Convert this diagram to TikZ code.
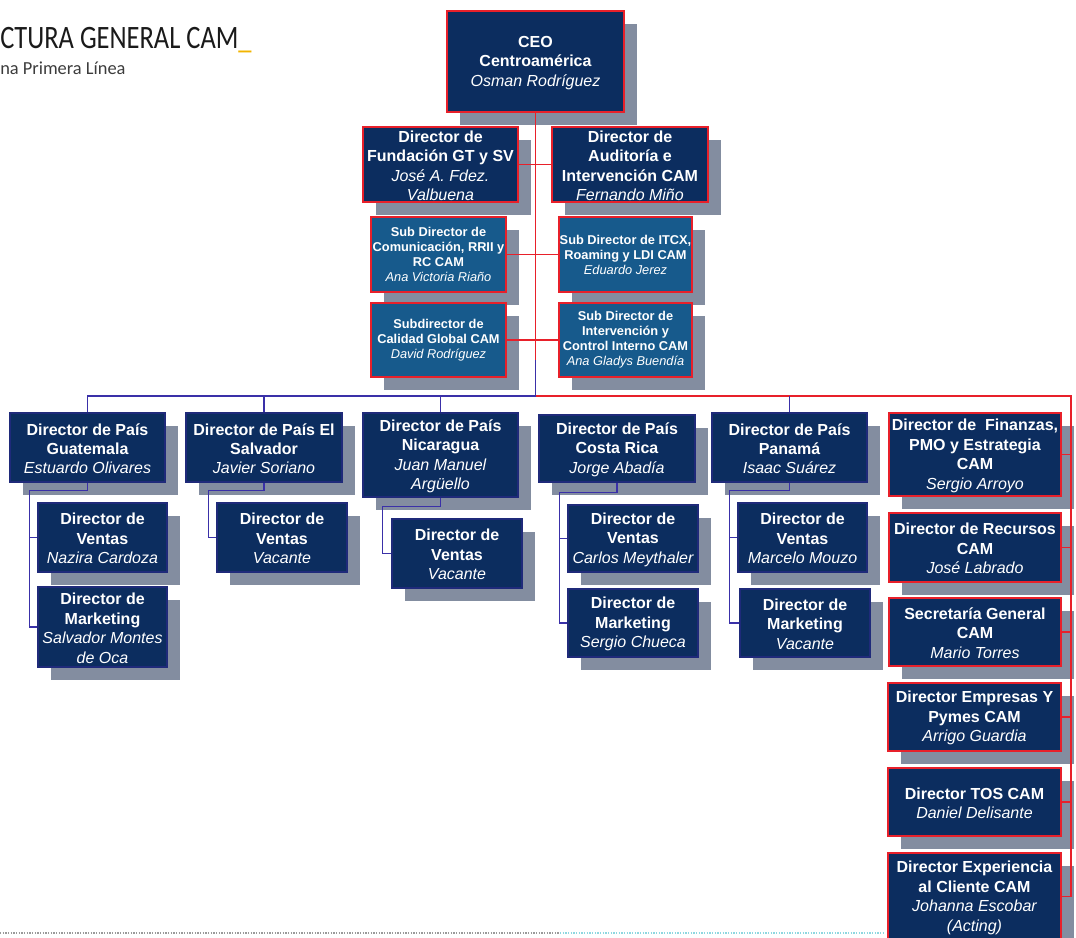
\documentclass[tikz,border=0pt]{standalone}
\usepackage{fontspec}
\setmainfont{Liberation Sans}
\newfontfamily\titlefont{Carlito}
\usetikzlibrary{fit}
\pgfdeclarelayer{shadowlayer}
\pgfdeclarelayer{linelayer}
\pgfsetlayers{shadowlayer,linelayer,main}
\definecolor{navy}{HTML}{0C2D5F}
\definecolor{subblue}{HTML}{175A8C}
\definecolor{redc}{HTML}{E8202A}
\definecolor{bluec}{HTML}{3A30A8}
\definecolor{navyborder}{HTML}{1F2A7A}
\definecolor{shadowc}{HTML}{838DA0}
\definecolor{titlec}{HTML}{1A1A1A}
\definecolor{accent}{HTML}{F2B400}
\definecolor{dotgray}{HTML}{9A9A9A}
\definecolor{dotcyan}{HTML}{8FD8E0}
\tikzset{
  boxbase/.style={fill=navy, inner sep=0pt, line width=1.1pt},
  cbox/.style={boxbase, draw=navyborder},
  rbox/.style={boxbase, draw=redc},
  sbox/.style={boxbase, fill=subblue, draw=redc},
  mtext/.style={text=white, inner sep=0pt, align=center, yshift=-0.9pt,
    font=\fontsize{12}{14.6}\selectfont\bfseries},
  stext/.style={text=white, inner sep=0pt, align=center, yshift=0pt,
    font=\fontsize{9.6}{11.25}\selectfont\bfseries},
  bl/.style={draw=bluec, line width=0.9pt},
  rl/.style={draw=redc, line width=0.9pt},
}
\newcommand\nm[1]{{\mdseries\itshape #1}}
% #1 name, #2 box style, #3 text style, #4-#7 corners, #8 text
\newcommand\orgbox[8]{%
  \begin{pgfonlayer}{shadowlayer}
    \fill[shadowc] (#4+13,#5+13) rectangle (#6+13,#7+13);
  \end{pgfonlayer}
  \node[#2, fit={(#4,#5) (#6,#7)}] (#1) {};
  \node[#3] (#1-t) at (#1.center) {#8};
}
\begin{document}
\begin{tikzpicture}[x=0.75pt, y=-0.75pt]
\useasboundingbox (0,0) rectangle (1076,938);
\clip (0,0) rectangle (1076,938);

% title
\node[anchor=base west, inner sep=0pt, text=titlec, font=\titlefont\fontsize{24.5}{28}\selectfont] (t1) at (0,49)
  {\scalebox{0.81}[1]{CTURA GENERAL CAM\textcolor{accent}{\_}}};
\node[anchor=base west, inner sep=0pt, text=titlec!85, font=\titlefont\fontsize{13.8}{16}\selectfont] (t2) at (0,75)
  {na Primera Línea};

% bottom dotted rule
\begin{pgfonlayer}{shadowlayer}
  \draw[dotgray, line width=1.5pt, dash pattern=on 1pt off 1pt] (0,933) -- (560,933);
  \draw[dotcyan, line width=1.5pt, dash pattern=on 1pt off 1pt] (560,933) -- (885,933);
\end{pgfonlayer}

% top management
\orgbox{ceo}{rbox}{mtext}{447}{11}{624}{112}{CEO\\Centroamérica\\\nm{Osman Rodríguez}}
\orgbox{fund}{rbox}{mtext}{363}{127}{518}{202}{Director de\\Fundación GT y SV\\\nm{José A. Fdez.}\\\nm{Valbuena}}
\orgbox{aud}{rbox}{mtext}{552}{127}{708}{202}{Director de\\Auditoría e\\Intervención CAM\\\nm{Fernando Miño}}
\orgbox{com}{sbox}{stext}{371}{217}{506}{292}{Sub Director de\\Comunicación, RRII y\\RC CAM\\\nm{Ana Victoria Riaño}}
\orgbox{itcx}{sbox}{stext}{559}{217}{692}{292}{Sub Director de ITCX,\\Roaming y LDI CAM\\\nm{Eduardo Jerez}}
\orgbox{cal}{sbox}{stext}{371}{303}{506}{377}{Subdirector de\\Calidad Global CAM\\\nm{David Rodríguez}}
\orgbox{intv}{sbox}{stext}{559}{303}{692}{377}{Sub Director de\\Intervención y\\Control Interno CAM\\\nm{Ana Gladys Buendía}}

% countries
\orgbox{gt}{cbox}{mtext}{10}{413}{165}{482}{Director de País\\Guatemala\\\nm{Estuardo Olivares}}
\orgbox{sv}{cbox}{mtext}{186}{413}{342}{482}{Director de País El\\Salvador\\\nm{Javier Soriano}}
\orgbox{ni}{cbox}{mtext}{363}{413}{518}{497}{Director de País\\Nicaragua\\\nm{Juan Manuel}\\\nm{Argüello}}
\orgbox{cr}{cbox}{mtext}{539}{415}{695}{482}{Director de País\\Costa Rica\\\nm{Jorge Abadía}}
\orgbox{pa}{cbox}{mtext}{712}{413}{867}{482}{Director de País\\Panamá\\\nm{Isaac Suárez}}

\orgbox{gtv}{cbox}{mtext}{38}{503}{167}{572}{Director de\\Ventas\\\nm{Nazira Cardoza}}
\orgbox{gtm}{cbox}{mtext}{38}{587}{167}{667}{Director de\\Marketing\\\nm{Salvador Montes}\\\nm{de Oca}}
\orgbox{svv}{cbox}{mtext}{217}{503}{347}{572}{Director de\\Ventas\\\nm{Vacante}}
\orgbox{niv}{cbox}{mtext}{392}{519}{522}{588}{Director de\\Ventas\\\nm{Vacante}}
\orgbox{crv}{cbox}{mtext}{568}{505}{698}{572}{Director de\\Ventas\\\nm{Carlos Meythaler}}
\orgbox{crm}{cbox}{mtext}{568}{589}{698}{657}{Director de\\Marketing\\\nm{Sergio Chueca}}
\orgbox{pav}{cbox}{mtext}{738}{503}{867}{572}{Director de\\Ventas\\\nm{Marcelo Mouzo}}
\orgbox{pam}{cbox}{mtext}{740}{589}{870}{657}{Director de\\Marketing\\\nm{Vacante}}

% staff column
\orgbox{fin}{rbox}{mtext}{889}{413}{1061}{496}{Director de \ Finanzas,\\PMO y Estrategia\\CAM\\\nm{Sergio Arroyo}}
\orgbox{rec}{rbox}{mtext}{889}{513}{1061}{582}{Director de Recursos\\CAM\\\nm{José Labrado}}
\orgbox{sec}{rbox}{mtext}{889}{598}{1061}{666}{Secretaría General\\CAM\\\nm{Mario Torres}}
\orgbox{emp}{rbox}{mtext}{888}{683}{1061}{751}{Director Empresas Y\\Pymes CAM\\\nm{Arrigo Guardia}}
\orgbox{tos}{rbox}{mtext}{888}{768}{1061}{836}{Director TOS CAM\\\nm{Daniel Delisante}}
\orgbox{exp}{rbox}{mtext}{888}{853}{1061}{940}{Director Experiencia\\al Cliente CAM\\\nm{Johanna Escobar}\\\nm{(Acting)}}

% connectors
\begin{pgfonlayer}{linelayer}
  \coordinate (jn) at (535.5,396);
  \coordinate (rj) at (535.5,360);
  \coordinate (rc) at (1071,396);
  \draw[bl] (ceo.south) -- (jn);
  \draw[rl] (ceo.south) -- (rj);
  \draw[bl] (jn) -| (gt.north);
  \draw[bl] (sv.north) -- (sv.north |- jn);
  \draw[bl] (ni.north) -- (ni.north |- jn);
  \draw[rl] ([xshift=0.6pt]jn) -- (rc) -- (rc |- exp.east);
  \draw[bl] (pa.north) -- (pa.north |- jn);
  \draw[rl] (fund.east) -- (aud.west);
  \draw[rl] (com.east) -- (itcx.west);
  \draw[rl] (cal.east) -- (intv.west);
  \foreach \n in {fin,rec,sec,emp,tos,exp} \draw[rl] (\n.east) -- (\n.east -| rc);
  % country sub-structures
  \draw[bl] (gt.south) -- ++(0,8) -| ([xshift=-6pt]gtm.west) -- (gtm.west);
  \draw[bl] (gtv.west) -- ++(-8,0);
  \draw[bl] (sv.south) -- ++(0,8) -| ([xshift=-6pt]svv.west) -- (svv.west);
  \draw[bl] (ni.south) -- ++(0,9) -| ([xshift=-6.75pt]niv.west) -- (niv.west);
  \draw[bl] (cr.south) -- ++(0,10) -| ([xshift=-6pt]crm.west) -- (crm.west);
  \draw[bl] (crv.west) -- ++(-8,0);
  \draw[bl] (pa.south) -- ++(0,8) -| ([xshift=-7.5pt]pam.west) -- (pam.west);
  \draw[bl] (pav.west) -- ++(-8,0);
\end{pgfonlayer}
\end{tikzpicture}
\end{document}
